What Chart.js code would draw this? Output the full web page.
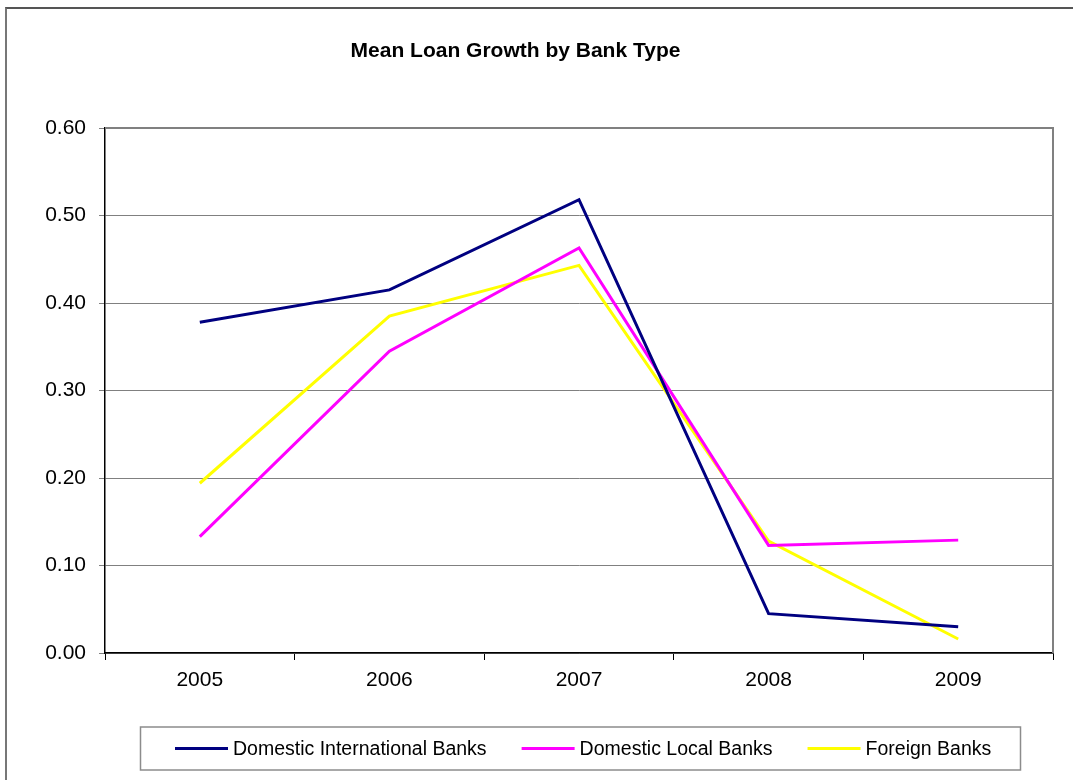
<!DOCTYPE html>
<html>
<head>
<meta charset="utf-8">
<script src="https://cdn.jsdelivr.net/npm/chart.js@4.4.1/dist/chart.umd.min.js"></script>
<style>
  html, body { margin: 0; padding: 0; background: #fff; }
  #wrap { position: relative; width: 1073px; height: 780px; overflow: hidden; }
  #frame { position: absolute; left: 5px; top: 7px; width: 1200px; height: 900px;
           border-top: 2px solid #555; border-left: 2px solid #777; }
  #chart { position: absolute; left: 0; top: 0; }
</style>
</head>
<body>
<div id="wrap">
  <div id="frame"></div>
  <canvas id="chart" width="1073" height="780"></canvas>
</div>
<script>
const years = ['2005', '2006', '2007', '2008', '2009'];
const domesticIntl = [0.378, 0.415, 0.518, 0.045, 0.030];
const domesticLocal = [0.133, 0.345, 0.463, 0.123, 0.129];
const foreignBanks = [0.194, 0.385, 0.443, 0.128, 0.016];
const seriesNames = ['Domestic International Banks', 'Domestic Local Banks', 'Foreign Banks'];
const seriesColors = ['#000080', '#FF00FF', '#FFFF00'];
const chartTitle = 'Mean Loan Growth by Bank Type';

const fontFamily = '"Liberation Sans", Arial, sans-serif';

// Draws the title, the grey top/right plot edge and the boxed legend
const decorations = {
    id: 'decorations',
    afterDraw(chart) {
        const ctx = chart.ctx;
        const area = chart.chartArea;
        ctx.save();

        // plot edge (top and right)
        ctx.strokeStyle = '#808080';
        ctx.lineWidth = 2;
        ctx.beginPath();
        ctx.moveTo(area.left, area.top);
        ctx.lineTo(area.right, area.top);
        ctx.lineTo(area.right, area.bottom);
        ctx.stroke();

        // title
        ctx.fillStyle = '#000';
        ctx.font = 'bold 21px ' + fontFamily;
        ctx.textAlign = 'center';
        ctx.textBaseline = 'alphabetic';
        ctx.fillText(chartTitle, 515.5, 57);

        // legend box
        ctx.strokeStyle = '#8c8c8c';
        ctx.lineWidth = 1.5;
        ctx.strokeRect(140.5, 727, 880, 43);

        // legend items
        ctx.font = '19.5px ' + fontFamily;
        ctx.textAlign = 'left';
        ctx.textBaseline = 'middle';
        let x = 175;
        const y = 748.5;
        chart.data.datasets.forEach((ds) => {
            ctx.strokeStyle = ds.borderColor;
            ctx.lineWidth = 3;
            ctx.beginPath();
            ctx.moveTo(x, y);
            ctx.lineTo(x + 53, y);
            ctx.stroke();
            ctx.fillStyle = '#000';
            ctx.fillText(ds.label, x + 58, y + 1);
            x += 58 + ctx.measureText(ds.label).width + 35;
        });
        ctx.restore();
    }
};

const seriesData = [domesticIntl, domesticLocal, foreignBanks];

new Chart(document.getElementById('chart'), {
    type: 'line',
    data: {
        labels: years,
        datasets: seriesNames.map((name, i) => ({
            label: name,
            data: seriesData[i],
            borderColor: seriesColors[i],
            backgroundColor: seriesColors[i],
            borderWidth: 3,
            pointRadius: 0,
            tension: 0,
            fill: false
        }))
    },
    options: {
        responsive: false,
        animation: false,
        devicePixelRatio: 1,
        layout: {
            padding: { left: 0, top: 128, right: 20, bottom: 67 }
        },
        plugins: {
            legend: { display: false },
            title: { display: false },
            tooltip: { enabled: false }
        },
        scales: {
            x: {
                type: 'category',
                offset: true,
                grid: {
                    offset: true,
                    drawOnChartArea: false,
                    drawTicks: true,
                    tickLength: 7,
                    color: '#000'
                },
                border: { color: '#000', width: 1.5 },
                ticks: {
                    color: '#000',
                    font: { family: fontFamily, size: 21 },
                    padding: 8,
                    maxRotation: 0
                },
                afterFit: (scale) => { scale.height = 60; }
            },
            y: {
                min: 0,
                max: 0.6,
                grid: {
                    color: '#808080',
                    lineWidth: 1,
                    tickLength: 6
                },
                border: { color: '#000', width: 1.5 },
                ticks: {
                    stepSize: 0.1,
                    color: '#000',
                    font: { family: fontFamily, size: 21 },
                    padding: 13,
                    callback: (v) => v.toFixed(2)
                },
                afterFit: (scale) => { scale.width = 105; }
            }
        }
    },
    plugins: [decorations]
});
</script>
</body>
</html>
